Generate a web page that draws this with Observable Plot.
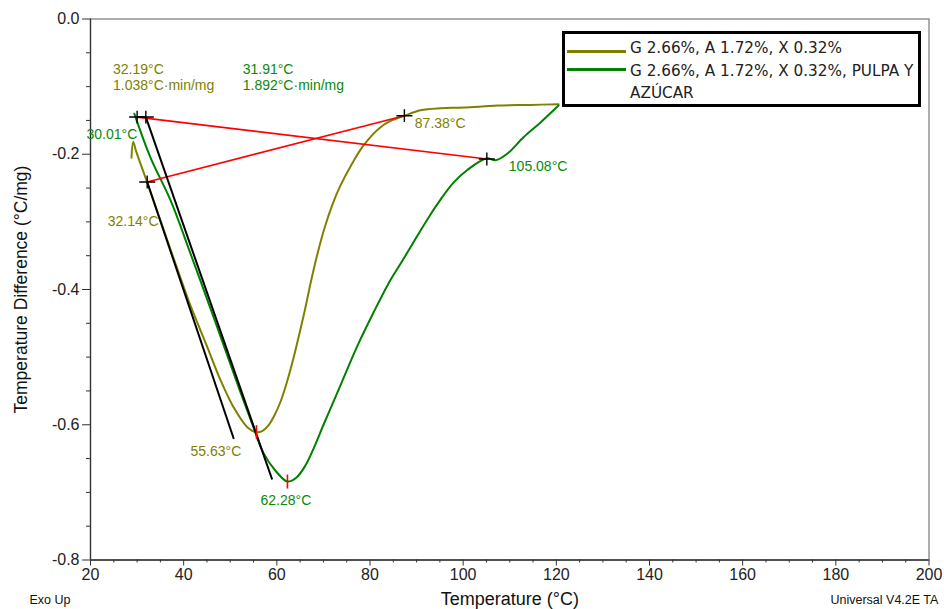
<!DOCTYPE html>
<html>
<head>
<meta charset="utf-8">
<script src="https://cdn.jsdelivr.net/npm/d3@7"></script>
<script src="https://cdn.jsdelivr.net/npm/@observablehq/plot@0.6"></script>
<style>
  body { margin: 0; background: #fff; }
  #wrap { position: relative; width: 944px; height: 609px; overflow: hidden; font-family: "Liberation Sans", Arial, sans-serif; }
  #legend { position: absolute; left: 562px; top: 31px; width: 353px; height: 70px; border: 3px solid #000; background: #fff;
            font-family: "DejaVu Sans", Verdana, sans-serif; font-size: 15.25px; color: #222; }
  #legend .sw { position: absolute; left: 2px; width: 59px; height: 3px; }
  #legend .txt { position: absolute; left: 65px; top: 3px; line-height: 22.5px; white-space: nowrap; }
</style>
</head>
<body>
<div id="wrap">
  <div id="chart"></div>
  <div id="legend"></div>
</div>
<script>
// ---- data ----
const seriesNames = ["G 2.66%, A 1.72%, X 0.32%", "G 2.66%, A 1.72%, X 0.32%, PULPA Y AZÚCAR"];
const seriesColors = ["#808000", "#008000"];

// Curve 1 (olive): temperature (°C) and temperature difference (°C/mg)
const oliveT = [28.80, 29.17, 29.77, 30.73, 32.14, 36.53, 41.04, 42.11, 45.12, 47.91, 50.70, 53.71, 55.63, 56.93, 58.21, 59.50, 60.79, 62.08, 63.37, 64.65, 65.94, 67.23, 68.73, 70.24, 71.95, 73.67, 75.82, 78.61, 82.26, 84.62, 87.38, 90.85, 95.14, 100.08, 107.38, 114.46, 120.47];
const oliveV = [-0.205, -0.182, -0.195, -0.214, -0.241, -0.328, -0.416, -0.435, -0.486, -0.534, -0.574, -0.604, -0.611, -0.609, -0.601, -0.586, -0.566, -0.539, -0.507, -0.471, -0.433, -0.391, -0.347, -0.309, -0.274, -0.246, -0.218, -0.187, -0.160, -0.150, -0.143, -0.135, -0.132, -0.131, -0.128, -0.127, -0.126];

// Curve 2 (green)
const greenT = [29.40, 32.88, 37.17, 41.47, 45.12, 48.98, 52.20, 54.99, 57.14, 59.72, 62.28, 64.22, 66.16, 68.09, 70.02, 71.95, 73.89, 77.32, 80.76, 83.98, 86.55, 89.34, 92.99, 95.14, 97.93, 100.94, 105.08, 106.95, 109.52, 112.96, 116.61, 120.47];
const greenV = [-0.140, -0.205, -0.268, -0.347, -0.416, -0.490, -0.552, -0.604, -0.642, -0.668, -0.684, -0.678, -0.660, -0.632, -0.600, -0.569, -0.538, -0.483, -0.434, -0.391, -0.362, -0.330, -0.289, -0.267, -0.242, -0.223, -0.206, -0.209, -0.199, -0.175, -0.153, -0.128];

// Integration baselines (red)
const baseX1 = [30.01, 32.14];
const baseY1 = [-0.145, -0.241];
const baseX2 = [105.08, 87.38];
const baseY2 = [-0.207, -0.143];

// Onset tangents (black)
const tanX1 = [31.88, 32.17];
const tanY1 = [-0.145, -0.241];
const tanX2 = [59.00, 50.77];
const tanY2 = [-0.681, -0.621];

// Cross markers
const crossT = [30.01, 31.88, 32.17, 87.38, 105.08];
const crossV = [-0.145, -0.145, -0.241, -0.143, -0.207];

// Peak markers
const peakT = [55.63, 62.28];
const peakV = [-0.611, -0.684];

// Annotations
const annoText = ["32.19°C\n1.038°C·min/mg", "31.91°C\n1.892°C·min/mg", "30.01°C", "32.14°C", "87.38°C", "105.08°C", "55.63°C", "62.28°C"];
const annoT = [24.83, 52.68, 19.14, 23.71, 89.62, 109.80, 41.47, 56.50];
const annoV = [-0.085, -0.085, -0.170, -0.299, -0.1535, -0.2177, -0.638, -0.7105];
const annoSeries = [0, 1, 1, 0, 0, 1, 0, 1];

// Axis ticks
const xMajor = [20, 40, 60, 80, 100, 120, 140, 160, 180, 200];
const xMinor = [25, 30, 35, 45, 50, 55, 65, 70, 75, 85, 90, 95, 105, 110, 115, 125, 130, 135, 145, 150, 155, 165, 170, 175, 185, 190, 195];
const yMajor = [0, -0.2, -0.4, -0.6, -0.8];
const yMinor = [-0.05, -0.1, -0.15, -0.25, -0.3, -0.35, -0.45, -0.5, -0.55, -0.65, -0.7, -0.75];

const xTitle = "Temperature (°C)";
const yTitle = "Temperature Difference (°C/mg)";
const footLeft = "Exo Up";
const footRight = "Universal V4.2E TA";

// ---- build ----
const olive = oliveT.map((t, i) => ({t, v: oliveV[i]}));
const green = greenT.map((t, i) => ({t, v: greenV[i]}));
const baselines = baseX1.map((x, i) => ({x1: x, y1: baseY1[i], x2: baseX2[i], y2: baseY2[i]}));
const tangents = tanX1.map((x, i) => ({x1: x, y1: tanY1[i], x2: tanX2[i], y2: tanY2[i]}));
const crosses = crossT.map((t, i) => ({t, v: crossV[i]}));
const peaks = peakT.map((t, i) => ({t, v: peakV[i]}));
const annos = annoText.map((s, i) => ({s, t: annoT[i], v: annoV[i], c: annoSeries[i]}));
const textColors = ["#808000", "#0a8a0a"];

const crossSymbol = {
  draw(ctx, size) {
    const r = Math.sqrt(size / Math.PI);
    ctx.moveTo(-r, 0); ctx.lineTo(r, 0);
    ctx.moveTo(0, -r * 0.8); ctx.lineTo(0, r * 0.8);
  }
};
const vTickSymbol = {
  draw(ctx, size) {
    const r = Math.sqrt(size / Math.PI);
    ctx.moveTo(0, -r); ctx.lineTo(0, r);
  }
};

const chart = Plot.plot({
  width: 944,
  height: 609,
  marginLeft: 90,
  marginRight: 15.5,
  marginTop: 18.5,
  marginBottom: 49.5,
  style: {fontFamily: "'Liberation Sans', Arial, sans-serif", fontSize: "16px", color: "#222", background: "#fff"},
  x: {domain: [20, 200]},
  y: {domain: [-0.8, 0]},
  marks: [
    Plot.frame({stroke: "#777", strokeWidth: 1.2}),
    Plot.ruleX([20], {stroke: "#333", strokeWidth: 1.3}),
    Plot.ruleY([-0.8], {stroke: "#333", strokeWidth: 1.3}),
    Plot.axisX({ticks: xMajor, tickSize: 6, tickPadding: 3, fontSize: 16, label: null, stroke: "#333"}),
    Plot.axisX({ticks: xMinor, tickSize: 3, text: null, label: null, stroke: "#333"}),
    Plot.axisY({ticks: yMajor, tickSize: 8, tickPadding: 3, fontSize: 16, label: null, tickFormat: d => d.toFixed(1), stroke: "#333"}),
    Plot.axisY({ticks: yMinor, tickSize: 4, text: null, label: null, stroke: "#333"}),
    Plot.line(olive, {x: "t", y: "v", stroke: seriesColors[0], strokeWidth: 2, curve: "catmull-rom"}),
    Plot.line(green, {x: "t", y: "v", stroke: seriesColors[1], strokeWidth: 2, curve: "catmull-rom"}),
    Plot.link(baselines, {x1: "x1", y1: "y1", x2: "x2", y2: "y2", stroke: "#ff0000", strokeWidth: 1.7}),
    Plot.link(tangents, {x1: "x1", y1: "y1", x2: "x2", y2: "y2", stroke: "#000", strokeWidth: 2}),
    Plot.dot(crosses, {x: "t", y: "v", symbol: crossSymbol, r: 8, fill: "none", stroke: "#000", strokeWidth: 1.4}),
    Plot.dot(peaks, {x: "t", y: "v", symbol: vTickSymbol, r: 7, fill: "none", stroke: "#ff0000", strokeWidth: 1.6}),
    Plot.text(annos, {x: "t", y: "v", text: "s", fill: d => textColors[d.c], fontSize: 14, textAnchor: "start", lineAnchor: "middle", lineHeight: 1.143}),
    Plot.text([xTitle], {frameAnchor: "bottom", dy: 39, fontSize: 18, textAnchor: "middle", lineAnchor: "middle", fill: "#111"}),
    Plot.text([yTitle], {frameAnchor: "left", dx: -69.5, rotate: -90, fontSize: 17.5, textAnchor: "middle", lineAnchor: "middle", fill: "#111"}),
    Plot.text([footLeft], {frameAnchor: "bottom-left", dx: -61, dy: 39.5, fontSize: 12.5, textAnchor: "start", lineAnchor: "middle", fill: "#111"}),
    Plot.text([footRight], {frameAnchor: "bottom-right", dx: -98.5, dy: 39.5, fontSize: 12.5, textAnchor: "start", lineAnchor: "middle", fill: "#111"})
  ]
});
document.getElementById("chart").appendChild(chart);

// legend
const legend = document.getElementById("legend");
const swTops = [15.5, 34];
seriesColors.forEach((c, i) => {
  const sw = document.createElement("div");
  sw.className = "sw";
  sw.style.top = swTops[i] + "px";
  sw.style.background = c;
  legend.appendChild(sw);
});
const txt = document.createElement("div");
txt.className = "txt";
txt.innerHTML = seriesNames[0] + "<br>" + "G 2.66%, A 1.72%, X 0.32%, PULPA Y" + "<br>" + "AZÚCAR";
legend.appendChild(txt);
</script>
</body>
</html>
